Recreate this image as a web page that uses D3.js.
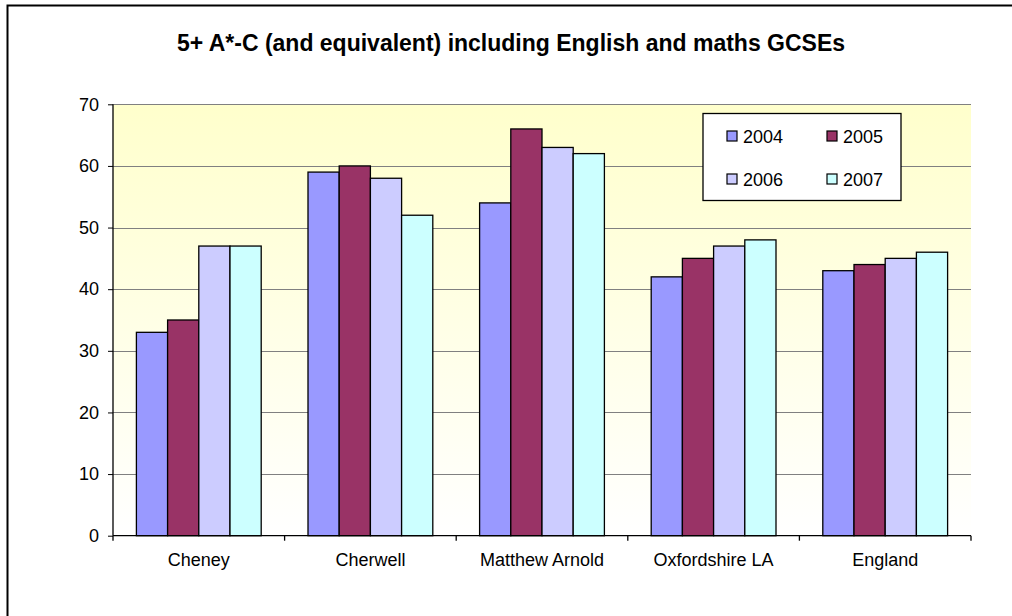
<!DOCTYPE html>
<html><head><meta charset="utf-8">
<script src="https://cdn.jsdelivr.net/npm/d3@7"></script>
<style>body{margin:0;background:#fff}svg{display:block;font-family:"Liberation Sans",Arial,sans-serif}</style>
</head><body><svg id="c" width="1012" height="616"></svg>
<script>
const categories = ["Cheney","Cherwell","Matthew Arnold","Oxfordshire LA","England"];
const years = ["2004","2005","2006","2007"];
const v2004 = [33,59,54,42,43];
const v2005 = [35,60,66,45,44];
const v2006 = [47,58,63,47,45];
const v2007 = [47,52,62,48,46];
const yTicks = [0,10,20,30,40,50,60,70];
const colors = ["#9999FF","#993366","#CCCCFF","#CCFFFF"];
const series = [v2004,v2005,v2006,v2007];

const svg = d3.select("#c");
const L=113,R=971,T=104.3,B=535.7;

svg.append("rect").attr("x",7.5).attr("y",5.5).attr("width",1100).attr("height",700)
  .attr("fill","#fff").attr("stroke","#000").attr("stroke-width",2);

const defs = svg.append("defs");
const g = defs.append("linearGradient").attr("id","bg").attr("x1",0).attr("y1",0).attr("x2",0).attr("y2",1);
g.append("stop").attr("offset","0").attr("stop-color","#FFFFCC");
g.append("stop").attr("offset","1").attr("stop-color","#FFFFFF");

svg.append("rect").attr("x",L).attr("y",T).attr("width",R-L).attr("height",B-T).attr("fill","url(#bg)");

const x = d3.scaleBand().domain(categories).range([L,R]).paddingInner(0).paddingOuter(0);
const y = d3.scaleLinear().domain([0,70]).range([B,T]);
const bw = x.bandwidth()/5.5;

// gridlines
svg.append("g").selectAll("line").data(yTicks.filter(d=>d>0)).join("line")
  .attr("x1",L).attr("x2",R).attr("y1",d=>Math.round(y(d))+0.5).attr("y2",d=>Math.round(y(d))+0.5)
  .attr("stroke","#808080").attr("stroke-width",1.2);

// bars
series.forEach((s,i)=>{
  svg.append("g").selectAll("rect").data(s).join("rect")
    .attr("x",(d,j)=>x(categories[j])+0.75*bw+i*bw)
    .attr("y",d=>y(d)).attr("width",bw).attr("height",d=>B-y(d))
    .attr("fill",colors[i]).attr("stroke","#000").attr("stroke-width",1.3);
});

// axes
const ya = svg.append("g").attr("transform",`translate(${L},0)`)
  .call(d3.axisLeft(y).tickValues(yTicks).tickSize(5).tickPadding(9).tickFormat(d3.format("d")));
ya.select(".domain").attr("stroke","#000").attr("stroke-width",1.3).attr("d",`M0,${T}V${B}`);
ya.selectAll("text").attr("font-size",18).attr("fill","#000").attr("font-family","Liberation Sans, Arial, sans-serif");
ya.selectAll("line").attr("stroke","#000");

const xa = svg.append("g").attr("transform",`translate(0,${B})`)
  .call(d3.axisBottom(x).tickSize(0).tickPadding(18));
xa.select(".domain").attr("stroke","#000").attr("stroke-width",1.3).attr("d",`M${L},0H${R}`);
xa.selectAll("text").attr("font-size",18).attr("fill","#000").attr("font-family","Liberation Sans, Arial, sans-serif");
// band boundary ticks
svg.append("g").selectAll("line").data(d3.range(categories.length+1)).join("line")
  .attr("x1",i=>L+i*x.bandwidth()).attr("x2",i=>L+i*x.bandwidth())
  .attr("y1",B).attr("y2",B+5).attr("stroke","#000").attr("stroke-width",1.3);

// title
svg.append("text").attr("x",511).attr("y",51).attr("text-anchor","middle")
  .attr("font-size",23).attr("font-weight","bold").text("5+ A*-C (and equivalent) including English and maths GCSEs");

// legend
const lg = svg.append("g");
lg.append("rect").attr("x",703).attr("y",113.5).attr("width",198).attr("height",87)
  .attr("fill","#fff").attr("stroke","#000").attr("stroke-width",1.3);
const lx=[727,827], ly=[131,174];
years.forEach((yr,i)=>{
  const cx=lx[i%2], cy=ly[Math.floor(i/2)];
  lg.append("rect").attr("x",cx).attr("y",cy).attr("width",10).attr("height",10)
    .attr("fill",colors[i]).attr("stroke","#000").attr("stroke-width",1.2);
  lg.append("text").attr("x",cx+16).attr("y",cy+11.5).attr("font-size",18).text(yr);
});
</script></body></html>
